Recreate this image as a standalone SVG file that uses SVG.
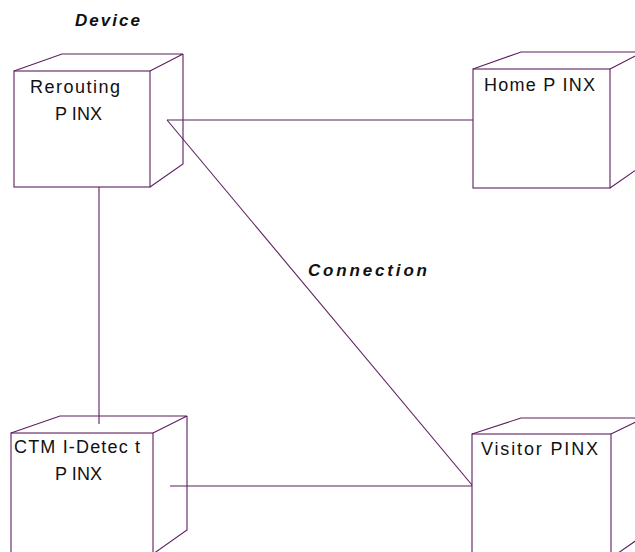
<svg xmlns="http://www.w3.org/2000/svg" width="635" height="552" viewBox="0 0 635 552">
  <style>
    .edge { fill: none; stroke: #5e1e5e; stroke-width: 1.1; }
    .face { fill: #ffffff; stroke: #5e1e5e; stroke-width: 1.1; }
    .label { font-family: "Liberation Sans", Arial, sans-serif; font-size: 18px; fill: #111111; }
    .title { font-family: "Liberation Sans", Arial, sans-serif; font-size: 17px; font-weight: bold; font-style: italic; fill: #111111; }
  </style>
  <rect width="635" height="552" fill="#ffffff"/>

  <!-- headings -->
  <text class="title" x="75" y="26" textLength="65" lengthAdjust="spacing">Device</text>
  <text class="title" x="308" y="276" textLength="119" lengthAdjust="spacing">Connection</text>

  <!-- connectors -->
  <g id="connectors">
    <line class="edge" x1="167" y1="120" x2="473" y2="120"/>
    <line class="edge" x1="167" y1="120" x2="472" y2="485"/>
    <line class="edge" x1="99" y1="187" x2="99" y2="424"/>
    <line class="edge" x1="170" y1="486" x2="472" y2="486"/>
  </g>

  <!-- device nodes: front face + top and side edges -->
  <g id="rerouting-pinx">
    <rect class="face" x="14" y="71" width="136" height="116"/>
    <polyline class="edge" points="14,71 62,54 183,54 150,71"/>
    <polyline class="edge" points="183,54 183,164 150,187"/>
    <text class="label" x="30" y="93" textLength="90" lengthAdjust="spacing">Rerouting</text>
    <text class="label" x="55" y="120" textLength="47" lengthAdjust="spacing">P INX</text>
  </g>

  <g id="home-pinx">
    <rect class="face" x="473" y="69" width="137" height="119"/>
    <polyline class="edge" points="473,69 521,52 643,52 610,69"/>
    <polyline class="edge" points="643,52 643,165 610,188"/>
    <text class="label" x="484" y="91" textLength="111" lengthAdjust="spacing">Home P INX</text>
  </g>

  <g id="ctmi-detect-pinx">
    <rect class="face" x="11" y="433" width="142" height="121"/>
    <polyline class="edge" points="11,433 60,416 187,416 153,433"/>
    <polyline class="edge" points="187,416 187,530 153,554"/>
    <text class="label" x="14" y="453" textLength="126" lengthAdjust="spacing">CTM I-Detec t</text>
    <text class="label" x="55" y="480" textLength="47" lengthAdjust="spacing">P INX</text>
  </g>

  <g id="visitor-pinx">
    <rect class="face" x="472" y="434" width="139" height="125"/>
    <polyline class="edge" points="472,434 521,418 644,418 611,434"/>
    <polyline class="edge" points="644,418 644,535 611,558"/>
    <text class="label" x="481" y="455" textLength="117" lengthAdjust="spacing">Visitor PINX</text>
  </g>
</svg>
